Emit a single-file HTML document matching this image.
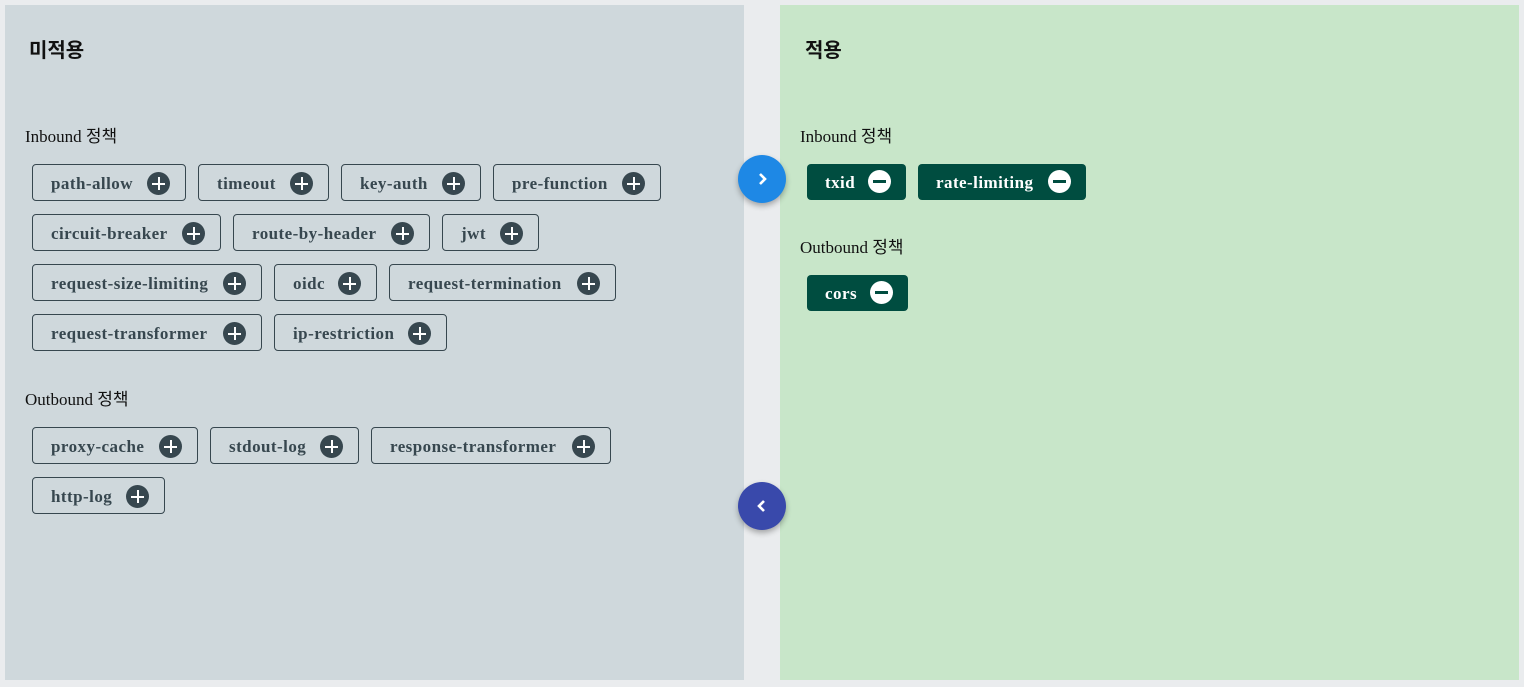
<!DOCTYPE html>
<html><head><meta charset="utf-8"><style>
*{box-sizing:border-box;margin:0;padding:0}
body{width:1524px;height:687px;background:#eaecee;position:relative;overflow:hidden;font-family:"Liberation Serif","Noto Serif CJK SC",serif}
.panel{position:absolute;top:5px;height:675px;width:739px}
.l{left:5px;background:#cfd8dc}
.r{left:780px;background:#c8e6c9}
.t{position:absolute;font:bold 20px "Liberation Sans","Noto Sans CJK KR",sans-serif;color:#111;top:34px}
.lab{position:absolute;font-size:17px;color:#111;font-family:"Liberation Serif","Noto Sans CJK KR",serif}
.c{position:absolute;height:37px;border:1px solid #37474f;border-radius:4px;display:flex;align-items:center;padding:2px 0 0 18px;font-weight:bold;font-size:17px;letter-spacing:0.45px;color:#37474f}
.c i{position:absolute;right:15px;top:7px;width:23px;height:23px;border-radius:50%;background:#37474f}
.c i:before,.c i:after{content:"";position:absolute;background:#fff;left:5px;top:10.5px;width:13px;height:2px}
.c i:after{left:10.5px;top:5px;width:2px;height:13px}
.g{border:none;background:#004d40;color:#fff;height:36px}
.g i{background:#fff;top:6px}
.g i:before{background:#004d40;height:3px;top:10px}
.g i:after{display:none}
.b{position:absolute;width:48px;height:48px;border-radius:50%;box-shadow:0 3px 6px rgba(0,0,0,.3);display:flex;align-items:center;justify-content:center}
</style></head><body>
<div class="panel l"></div><div class="panel r"></div>
<div class="t" style="left:29px">미적용</div>
<div class="t" style="left:805px">적용</div>
<div class="lab" style="left:25px;top:122px">Inbound 정책</div>
<div class="lab" style="left:25px;top:385px">Outbound 정책</div>
<div class="lab" style="left:800px;top:122px">Inbound 정책</div>
<div class="lab" style="left:800px;top:233px">Outbound 정책</div>

<div class="c" style="left:32px;top:164px;width:154px">path-allow<i></i></div>
<div class="c" style="left:198px;top:164px;width:131px">timeout<i></i></div>
<div class="c" style="left:341px;top:164px;width:140px">key-auth<i></i></div>
<div class="c" style="left:493px;top:164px;width:168px">pre-function<i></i></div>
<div class="c" style="left:32px;top:214px;width:189px">circuit-breaker<i></i></div>
<div class="c" style="left:233px;top:214px;width:197px">route-by-header<i></i></div>
<div class="c" style="left:442px;top:214px;width:97px">jwt<i></i></div>
<div class="c" style="left:32px;top:264px;width:230px">request-size-limiting<i></i></div>
<div class="c" style="left:274px;top:264px;width:103px">oidc<i></i></div>
<div class="c" style="left:389px;top:264px;width:227px">request-termination<i></i></div>
<div class="c" style="left:32px;top:314px;width:230px">request-transformer<i></i></div>
<div class="c" style="left:274px;top:314px;width:173px">ip-restriction<i></i></div>
<div class="c" style="left:32px;top:427px;width:166px">proxy-cache<i></i></div>
<div class="c" style="left:210px;top:427px;width:149px">stdout-log<i></i></div>
<div class="c" style="left:371px;top:427px;width:240px">response-transformer<i></i></div>
<div class="c" style="left:32px;top:477px;width:133px">http-log<i></i></div>

<div class="c g" style="left:807px;top:164px;width:99px">txid<i></i></div>
<div class="c g" style="left:918px;top:164px;width:168px">rate-limiting<i></i></div>
<div class="c g" style="left:807px;top:275px;width:101px">cors<i></i></div>

<div class="b" style="left:738px;top:155px;background:#1e88e5"><svg width="12" height="14" viewBox="0 0 12 14"><path d="M4 2 L9 7 L4 12" stroke="#fff" stroke-width="2.6" fill="none"/></svg></div>
<div class="b" style="left:738px;top:482px;background:#3949ab"><svg width="12" height="14" viewBox="0 0 12 14"><path d="M8 2 L3 7 L8 12" stroke="#fff" stroke-width="2.6" fill="none"/></svg></div>
</body></html>
